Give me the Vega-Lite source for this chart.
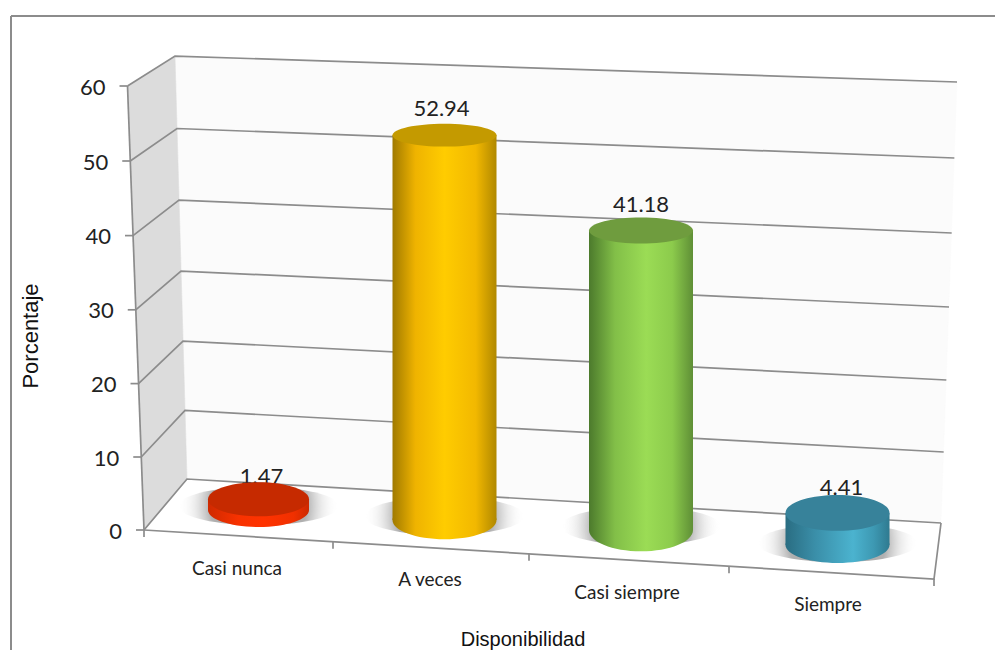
{
  "$schema": "https://vega.github.io/schema/vega-lite/v6.json",
  "width": 995, "height": 650, "padding": 0, "autosize": {"type": "none"}, "background": "white",
  "config": {"view": {"stroke": null}, "axis": {"disable": true}, "legend": {"disable": true}, "scale": {"continuousPadding": 0}, "text": {"font": "Lato", "color": "#222222"}},
  "datasets": {
    "disponibilidad": [
      {"categoria": "Casi nunca", "porcentaje": 1.47},
      {"categoria": "A veces", "porcentaje": 52.94},
      {"categoria": "Casi siempre", "porcentaje": 41.18},
      {"categoria": "Siempre", "porcentaje": 4.41}
    ],
    "niveles": [{"nivel": 0}, {"nivel": 10}, {"nivel": 20}, {"nivel": 30}, {"nivel": 40}, {"nivel": 50}, {"nivel": 60}],
    "marcas": [{"marca": 0}, {"marca": 1}, {"marca": 2}, {"marca": 3}, {"marca": 4}],
    "aristas": [
      {"trazo": "n0", "nivel": 0, "esquina": "frente-izq", "orden": 1}, {"trazo": "n0", "nivel": 0, "esquina": "fondo-izq", "orden": 2}, {"trazo": "n0", "nivel": 0, "esquina": "fondo-der", "orden": 3},
      {"trazo": "n10", "nivel": 10, "esquina": "frente-izq", "orden": 1}, {"trazo": "n10", "nivel": 10, "esquina": "fondo-izq", "orden": 2}, {"trazo": "n10", "nivel": 10, "esquina": "fondo-der", "orden": 3},
      {"trazo": "n20", "nivel": 20, "esquina": "frente-izq", "orden": 1}, {"trazo": "n20", "nivel": 20, "esquina": "fondo-izq", "orden": 2}, {"trazo": "n20", "nivel": 20, "esquina": "fondo-der", "orden": 3},
      {"trazo": "n30", "nivel": 30, "esquina": "frente-izq", "orden": 1}, {"trazo": "n30", "nivel": 30, "esquina": "fondo-izq", "orden": 2}, {"trazo": "n30", "nivel": 30, "esquina": "fondo-der", "orden": 3},
      {"trazo": "n40", "nivel": 40, "esquina": "frente-izq", "orden": 1}, {"trazo": "n40", "nivel": 40, "esquina": "fondo-izq", "orden": 2}, {"trazo": "n40", "nivel": 40, "esquina": "fondo-der", "orden": 3},
      {"trazo": "n50", "nivel": 50, "esquina": "frente-izq", "orden": 1}, {"trazo": "n50", "nivel": 50, "esquina": "fondo-izq", "orden": 2}, {"trazo": "n50", "nivel": 50, "esquina": "fondo-der", "orden": 3},
      {"trazo": "n60", "nivel": 60, "esquina": "frente-izq", "orden": 1}, {"trazo": "n60", "nivel": 60, "esquina": "fondo-izq", "orden": 2}, {"trazo": "n60", "nivel": 60, "esquina": "fondo-der", "orden": 3},
      {"trazo": "eje", "nivel": 0, "esquina": "frente-izq", "orden": 1}, {"trazo": "eje", "nivel": 60, "esquina": "frente-izq", "orden": 2},
      {"trazo": "suelo", "nivel": 0, "esquina": "frente-izq", "orden": 1}, {"trazo": "suelo", "nivel": 0, "esquina": "frente-der", "orden": 2}, {"trazo": "suelo", "nivel": 0, "esquina": "fondo-der", "orden": 3}
    ],
    "paredes": [
      {"pared": "lateral", "nivel": 60, "esquina": "frente-izq", "orden": 1}, {"pared": "lateral", "nivel": 60, "esquina": "fondo-izq", "orden": 2}, {"pared": "lateral", "nivel": 0, "esquina": "fondo-izq", "orden": 3}, {"pared": "lateral", "nivel": 0, "esquina": "frente-izq", "orden": 4},
      {"pared": "fondo", "nivel": 60, "esquina": "fondo-izq", "orden": 1}, {"pared": "fondo", "nivel": 60, "esquina": "fondo-der", "orden": 2}, {"pared": "fondo", "nivel": 0, "esquina": "fondo-der", "orden": 3}, {"pared": "fondo", "nivel": 0, "esquina": "fondo-izq", "orden": 4}
    ]
  },
  "resolve": {"scale": {"y": "independent"}},
  "layer": [
    {
      "description": "Box of the 3D plot: walls, gridlines, axes and their labels, projected from wall corners and levels",
      "layer": [
        {
          "data": {"name": "paredes"},
          "transform": [
            {"calculate": "indexof(datum.esquina,'der')>=0?1:0", "as": "u"},
            {"calculate": "indexof(datum.esquina,'fondo')>=0?1:0", "as": "d"},
            {"calculate": "(1-datum.u)*((1-datum.d)*(144-0.275*datum.nivel)+datum.d*(187-0.2*datum.nivel))+datum.u*((1-datum.d)*934+datum.d*(941+0.267*datum.nivel))", "as": "px"},
            {"calculate": "(1-datum.u)*((1-datum.d)*(530-7.28*datum.nivel-0.002*datum.nivel*datum.nivel)+datum.d*(479-6.815*datum.nivel-0.0039*datum.nivel*datum.nivel))+datum.u*((1-datum.d)*579+datum.d*(523-7.05*datum.nivel-0.005*datum.nivel*datum.nivel))", "as": "py"}
          ],
          "layer": [
            {
              "transform": [{"filter": "datum.pared=='fondo'"}],
              "mark": {"type": "line", "interpolate": "linear-closed", "fill": "#fbfbfb", "stroke": "#fbfbfb", "strokeWidth": 0.5},
              "encoding": {
                "x": {"field": "px", "type": "quantitative", "scale": {"domain": [0, 995]}},
                "y": {"field": "py", "type": "quantitative", "scale": {"domain": [650, 0]}},
                "order": {"field": "orden"}
              }
            },
            {
              "transform": [{"filter": "datum.pared=='lateral'"}],
              "mark": {"type": "line", "interpolate": "linear-closed", "stroke": "#dcdcdc", "strokeWidth": 0.5, "fill": "#dcdcdc"},
              "encoding": {
                "x": {"field": "px", "type": "quantitative", "scale": {"domain": [0, 995]}},
                "y": {"field": "py", "type": "quantitative", "scale": {"domain": [650, 0]}},
                "order": {"field": "orden"}
              }
            }
          ]
        },
        {
          "data": {"name": "aristas"},
          "transform": [
            {"calculate": "indexof(datum.esquina,'der')>=0?1:0", "as": "u"},
            {"calculate": "indexof(datum.esquina,'fondo')>=0?1:0", "as": "d"},
            {"calculate": "(1-datum.u)*((1-datum.d)*(144-0.275*datum.nivel)+datum.d*(187-0.2*datum.nivel))+datum.u*((1-datum.d)*934+datum.d*(941+0.267*datum.nivel))", "as": "px"},
            {"calculate": "(1-datum.u)*((1-datum.d)*(530-7.28*datum.nivel-0.002*datum.nivel*datum.nivel)+datum.d*(479-6.815*datum.nivel-0.0039*datum.nivel*datum.nivel))+datum.u*((1-datum.d)*579+datum.d*(523-7.05*datum.nivel-0.005*datum.nivel*datum.nivel))", "as": "py"}
          ],
          "mark": {"type": "line", "stroke": "#8c8c8c", "strokeWidth": 1.7},
          "encoding": {
            "x": {"field": "px", "type": "quantitative", "scale": {"domain": [0, 995]}},
            "y": {"field": "py", "type": "quantitative", "scale": {"domain": [650, 0]}},
            "detail": {"field": "trazo"},
            "order": {"field": "orden"}
          }
        },
        {
          "data": {"name": "niveles"},
          "transform": [
            {"calculate": "144-0.275*datum.nivel", "as": "fx"},
            {"calculate": "530-7.28*datum.nivel-0.002*datum.nivel*datum.nivel", "as": "fy"},
            {"calculate": "datum.fx-8", "as": "tx"},
            {"calculate": "datum.fx-22", "as": "lx"},
            {"calculate": "datum.fy+1.5", "as": "ly"}
          ],
          "layer": [
            {
              "mark": {"type": "rule", "stroke": "#8c8c8c", "strokeWidth": 1.7},
              "encoding": {
                "x": {"field": "tx", "type": "quantitative", "scale": {"domain": [0, 995]}},
                "x2": {"field": "fx"},
                "y": {"field": "fy", "type": "quantitative", "scale": {"domain": [650, 0]}}
              }
            },
            {
              "mark": {"type": "text", "align": "right", "baseline": "middle", "fontSize": 22},
              "encoding": {
                "x": {"field": "lx", "type": "quantitative", "scale": {"domain": [0, 995]}},
                "y": {"field": "ly", "type": "quantitative", "scale": {"domain": [650, 0]}},
                "text": {"field": "nivel", "type": "quantitative"}
              }
            }
          ]
        },
        {
          "data": {"name": "marcas"},
          "transform": [
            {"calculate": "[144,333,529,729,934][datum.marca]", "as": "mx"},
            {"calculate": "530+0.062*(datum.mx-144)", "as": "my"},
            {"calculate": "datum.my+7", "as": "my2"}
          ],
          "mark": {"type": "rule", "stroke": "#8c8c8c", "strokeWidth": 1.7},
          "encoding": {
            "x": {"field": "mx", "type": "quantitative", "scale": {"domain": [0, 995]}},
            "y": {"field": "my", "type": "quantitative", "scale": {"domain": [650, 0]}},
            "y2": {"field": "my2"}
          }
        },
        {
          "data": {"name": "disponibilidad"},
          "transform": [
            {"calculate": "indexof(['Casi nunca','A veces','Casi siempre','Siempre'],datum.categoria)", "as": "i"},
            {"calculate": "[237,430,627,828][datum.i]", "as": "tx"},
            {"calculate": "[569,580,593,605][datum.i]", "as": "ty"}
          ],
          "mark": {"type": "text", "align": "center", "baseline": "middle", "fontSize": 19},
          "encoding": {
            "x": {"field": "tx", "type": "quantitative", "scale": {"domain": [0, 995]}},
            "y": {"field": "ty", "type": "quantitative", "scale": {"domain": [650, 0]}},
            "text": {"field": "categoria", "type": "nominal"}
          }
        },
        {
          "data": {"values": [{"titulo": "Porcentaje"}]},
          "mark": {"type": "text", "font": "Liberation Sans", "fontSize": 22, "angle": 270, "align": "center", "baseline": "middle", "color": "#111111"},
          "encoding": {
            "x": {"datum": 31, "scale": {"domain": [0, 995]}},
            "y": {"datum": 336, "scale": {"domain": [650, 0]}},
            "text": {"field": "titulo", "type": "nominal"}
          }
        },
        {
          "data": {"values": [{"titulo": "Disponibilidad"}]},
          "mark": {"type": "text", "font": "Liberation Sans", "fontSize": 20, "align": "center", "baseline": "middle", "color": "#111111"},
          "encoding": {
            "x": {"datum": 523, "scale": {"domain": [0, 995]}},
            "y": {"datum": 640, "scale": {"domain": [650, 0]}},
            "text": {"field": "titulo", "type": "nominal"}
          }
        },
        {
          "data": {"values": [{"borde": "superior"}]},
          "mark": {"type": "rule", "stroke": "#8c8c8c", "strokeWidth": 2},
          "encoding": {
            "x": {"datum": 11, "scale": {"domain": [0, 995]}},
            "x2": {"datum": 995},
            "y": {"datum": 16, "scale": {"domain": [650, 0]}}
          }
        },
        {
          "data": {"values": [{"borde": "izquierdo"}]},
          "mark": {"type": "rule", "stroke": "#8c8c8c", "strokeWidth": 2},
          "encoding": {
            "x": {"datum": 11, "scale": {"domain": [0, 995]}},
            "y": {"datum": 16, "scale": {"domain": [650, 0]}},
            "y2": {"datum": 650}
          }
        }
      ]
    },
    {
      "description": "Casi nunca cylinder",
      "data": {"name": "disponibilidad"},
      "transform": [{"filter": "datum.categoria=='Casi nunca'"}, {"calculate": "258.5", "as": "cx"}],
      "encoding": {
        "x": {"field": "cx", "type": "quantitative", "scale": {"domain": [0, 995]}},
        "y": {"field": "porcentaje", "type": "quantitative", "stack": null, "scale": {"domain": [0, 60], "range": [510, 73.8]}}
      },
      "layer": [
        {
          "mark": {"type": "point", "filled": true, "opacity": 1, "size": 25600, "yOffset": -4, "shape": "M-1,0A1,0.24 0 1,1 1,0A1,0.24 0 1,1 -1,0Z", "fill": {"gradient": "radial", "x1": 0.5, "y1": 0.5, "r1": 0, "x2": 0.5, "y2": 0.5, "r2": 0.5, "stops": [{"offset": 0, "color": "#a0a0a0"}, {"offset": 0.6, "color": "#b0b0b0"}, {"offset": 0.8, "color": "rgba(225,225,225,0.6)"}, {"offset": 1, "color": "rgba(255,255,255,0)"}]}},
          "encoding": {"y": {"datum": 0, "scale": {"domain": [0, 60], "range": [510, 73.8]}}}
        },
        {
          "mark": {"type": "point", "filled": true, "opacity": 1, "size": 10201, "shape": "M-1,0A1,0.337 0 1,1 1,0A1,0.337 0 1,1 -1,0Z", "fill": {"gradient": "linear", "x1": 0, "x2": 1, "y1": 0, "y2": 0, "stops": [{"offset": 0, "color": "#cf2a00"}, {"offset": 0.3, "color": "#f83200"}, {"offset": 0.55, "color": "#ff3300"}, {"offset": 0.85, "color": "#f03000"}, {"offset": 1, "color": "#cc2a00"}]}},
          "encoding": {"y": {"datum": 0, "scale": {"domain": [0, 60], "range": [510, 73.8]}}}
        },
        {
          "mark": {"type": "bar", "orient": "vertical", "size": 101, "fill": {"gradient": "linear", "x1": 0, "x2": 1, "y1": 0, "y2": 0, "stops": [{"offset": 0, "color": "#cf2a00"}, {"offset": 0.3, "color": "#f83200"}, {"offset": 0.55, "color": "#ff3300"}, {"offset": 0.85, "color": "#f03000"}, {"offset": 1, "color": "#cc2a00"}]}}
        },
        {
          "mark": {"type": "text", "fontSize": 22, "align": "center", "baseline": "middle", "dy": -22, "dx": 3},
          "encoding": {"text": {"field": "porcentaje", "type": "quantitative", "format": ".2f"}}
        },
        {
          "mark": {"type": "point", "filled": true, "opacity": 1, "size": 10201, "fill": "#c62a00", "shape": "M-1,0A1,0.337 0 1,1 1,0A1,0.337 0 1,1 -1,0Z"}
        }
      ]
    },
    {
      "description": "A veces cylinder",
      "data": {"name": "disponibilidad"},
      "transform": [{"filter": "datum.categoria=='A veces'"}, {"calculate": "444.5", "as": "cx"}],
      "encoding": {
        "x": {"field": "cx", "type": "quantitative", "scale": {"domain": [0, 995]}},
        "y": {"field": "porcentaje", "type": "quantitative", "stack": null, "scale": {"domain": [0, 60], "range": [520, 83.8]}}
      },
      "layer": [
        {
          "mark": {"type": "point", "filled": true, "opacity": 1, "size": 25600, "yOffset": -4, "shape": "M-1,0A1,0.24 0 1,1 1,0A1,0.24 0 1,1 -1,0Z", "fill": {"gradient": "radial", "x1": 0.5, "y1": 0.5, "r1": 0, "x2": 0.5, "y2": 0.5, "r2": 0.5, "stops": [{"offset": 0, "color": "#a0a0a0"}, {"offset": 0.6, "color": "#b0b0b0"}, {"offset": 0.8, "color": "rgba(225,225,225,0.6)"}, {"offset": 1, "color": "rgba(255,255,255,0)"}]}},
          "encoding": {"y": {"datum": 0, "scale": {"domain": [0, 60], "range": [520, 83.8]}}}
        },
        {
          "mark": {"type": "point", "filled": true, "opacity": 1, "size": 10816, "shape": "M-1,0A1,0.37 0 1,1 1,0A1,0.37 0 1,1 -1,0Z", "fill": {"gradient": "linear", "x1": 0, "x2": 1, "y1": 0, "y2": 0, "stops": [{"offset": 0, "color": "#a07a00"}, {"offset": 0.22, "color": "#efb300"}, {"offset": 0.5, "color": "#ffcc00"}, {"offset": 0.8, "color": "#f2b800"}, {"offset": 1, "color": "#b08800"}]}},
          "encoding": {"y": {"datum": 0, "scale": {"domain": [0, 60], "range": [520, 83.8]}}}
        },
        {
          "mark": {"type": "bar", "orient": "vertical", "size": 104, "fill": {"gradient": "linear", "x1": 0, "x2": 1, "y1": 0, "y2": 0, "stops": [{"offset": 0, "color": "#a07a00"}, {"offset": 0.22, "color": "#efb300"}, {"offset": 0.5, "color": "#ffcc00"}, {"offset": 0.8, "color": "#f2b800"}, {"offset": 1, "color": "#b08800"}]}}
        },
        {
          "mark": {"type": "text", "fontSize": 22, "align": "center", "baseline": "middle", "dy": -26, "dx": -3},
          "encoding": {"text": {"field": "porcentaje", "type": "quantitative", "format": ".2f"}}
        },
        {
          "mark": {"type": "point", "filled": true, "opacity": 1, "size": 10816, "fill": "#c49a00", "shape": "M-1,0A1,0.22 0 1,1 1,0A1,0.22 0 1,1 -1,0Z"}
        }
      ]
    },
    {
      "description": "Casi siempre cylinder",
      "data": {"name": "disponibilidad"},
      "transform": [{"filter": "datum.categoria=='Casi siempre'"}, {"calculate": "641", "as": "cx"}],
      "encoding": {
        "x": {"field": "cx", "type": "quantitative", "scale": {"domain": [0, 995]}},
        "y": {"field": "porcentaje", "type": "quantitative", "stack": null, "scale": {"domain": [0, 60], "range": [530, 93.8]}}
      },
      "layer": [
        {
          "mark": {"type": "point", "filled": true, "opacity": 1, "size": 25600, "yOffset": -4, "shape": "M-1,0A1,0.24 0 1,1 1,0A1,0.24 0 1,1 -1,0Z", "fill": {"gradient": "radial", "x1": 0.5, "y1": 0.5, "r1": 0, "x2": 0.5, "y2": 0.5, "r2": 0.5, "stops": [{"offset": 0, "color": "#a0a0a0"}, {"offset": 0.6, "color": "#b0b0b0"}, {"offset": 0.8, "color": "rgba(225,225,225,0.6)"}, {"offset": 1, "color": "rgba(255,255,255,0)"}]}},
          "encoding": {"y": {"datum": 0, "scale": {"domain": [0, 60], "range": [530, 93.8]}}}
        },
        {
          "mark": {"type": "point", "filled": true, "opacity": 1, "size": 10816, "shape": "M-1,0A1,0.41 0 1,1 1,0A1,0.41 0 1,1 -1,0Z", "fill": {"gradient": "linear", "x1": 0, "x2": 1, "y1": 0, "y2": 0, "stops": [{"offset": 0, "color": "#4c7a2c"}, {"offset": 0.25, "color": "#82bf48"}, {"offset": 0.55, "color": "#9bdc55"}, {"offset": 0.8, "color": "#8ccb4c"}, {"offset": 1, "color": "#5f8f36"}]}},
          "encoding": {"y": {"datum": 0, "scale": {"domain": [0, 60], "range": [530, 93.8]}}}
        },
        {
          "mark": {"type": "bar", "orient": "vertical", "size": 104, "fill": {"gradient": "linear", "x1": 0, "x2": 1, "y1": 0, "y2": 0, "stops": [{"offset": 0, "color": "#4c7a2c"}, {"offset": 0.25, "color": "#82bf48"}, {"offset": 0.55, "color": "#9bdc55"}, {"offset": 0.8, "color": "#8ccb4c"}, {"offset": 1, "color": "#5f8f36"}]}}
        },
        {
          "mark": {"type": "text", "fontSize": 22, "align": "center", "baseline": "middle", "dy": -26, "dx": 0},
          "encoding": {"text": {"field": "porcentaje", "type": "quantitative", "format": ".2f"}}
        },
        {
          "mark": {"type": "point", "filled": true, "opacity": 1, "size": 10816, "fill": "#6f9c3e", "shape": "M-1,0A1,0.25 0 1,1 1,0A1,0.25 0 1,1 -1,0Z"}
        }
      ]
    },
    {
      "description": "Siempre cylinder",
      "data": {"name": "disponibilidad"},
      "transform": [{"filter": "datum.categoria=='Siempre'"}, {"calculate": "837.5", "as": "cx"}],
      "encoding": {
        "x": {"field": "cx", "type": "quantitative", "scale": {"domain": [0, 995]}},
        "y": {"field": "porcentaje", "type": "quantitative", "stack": null, "scale": {"domain": [0, 60], "range": [545, 108.8]}}
      },
      "layer": [
        {
          "mark": {"type": "point", "filled": true, "opacity": 1, "size": 25600, "yOffset": -2, "shape": "M-1,0A1,0.24 0 1,1 1,0A1,0.24 0 1,1 -1,0Z", "fill": {"gradient": "radial", "x1": 0.5, "y1": 0.5, "r1": 0, "x2": 0.5, "y2": 0.5, "r2": 0.5, "stops": [{"offset": 0, "color": "#a0a0a0"}, {"offset": 0.6, "color": "#b0b0b0"}, {"offset": 0.8, "color": "rgba(225,225,225,0.6)"}, {"offset": 1, "color": "rgba(255,255,255,0)"}]}},
          "encoding": {"y": {"datum": 0, "scale": {"domain": [0, 60], "range": [545, 108.8]}}}
        },
        {
          "mark": {"type": "point", "filled": true, "opacity": 1, "size": 10816, "shape": "M-1,0A1,0.346 0 1,1 1,0A1,0.346 0 1,1 -1,0Z", "fill": {"gradient": "linear", "x1": 0, "x2": 1, "y1": 0, "y2": 0, "stops": [{"offset": 0, "color": "#2a6d82"}, {"offset": 0.28, "color": "#3a8ea8"}, {"offset": 0.65, "color": "#4bb3cf"}, {"offset": 0.85, "color": "#3d98b2"}, {"offset": 1, "color": "#2f7a90"}]}},
          "encoding": {"y": {"datum": 0, "scale": {"domain": [0, 60], "range": [545, 108.8]}}}
        },
        {
          "mark": {"type": "bar", "orient": "vertical", "size": 104, "fill": {"gradient": "linear", "x1": 0, "x2": 1, "y1": 0, "y2": 0, "stops": [{"offset": 0, "color": "#2a6d82"}, {"offset": 0.28, "color": "#3a8ea8"}, {"offset": 0.65, "color": "#4bb3cf"}, {"offset": 0.85, "color": "#3d98b2"}, {"offset": 1, "color": "#2f7a90"}]}}
        },
        {
          "mark": {"type": "text", "fontSize": 22, "align": "center", "baseline": "middle", "dy": -25, "dx": 4},
          "encoding": {"text": {"field": "porcentaje", "type": "quantitative", "format": ".2f"}}
        },
        {
          "mark": {"type": "point", "filled": true, "opacity": 1, "size": 10816, "fill": "#37829a", "shape": "M-1,0A1,0.343 0 1,1 1,0A1,0.343 0 1,1 -1,0Z"}
        }
      ]
    }
  ]
}
